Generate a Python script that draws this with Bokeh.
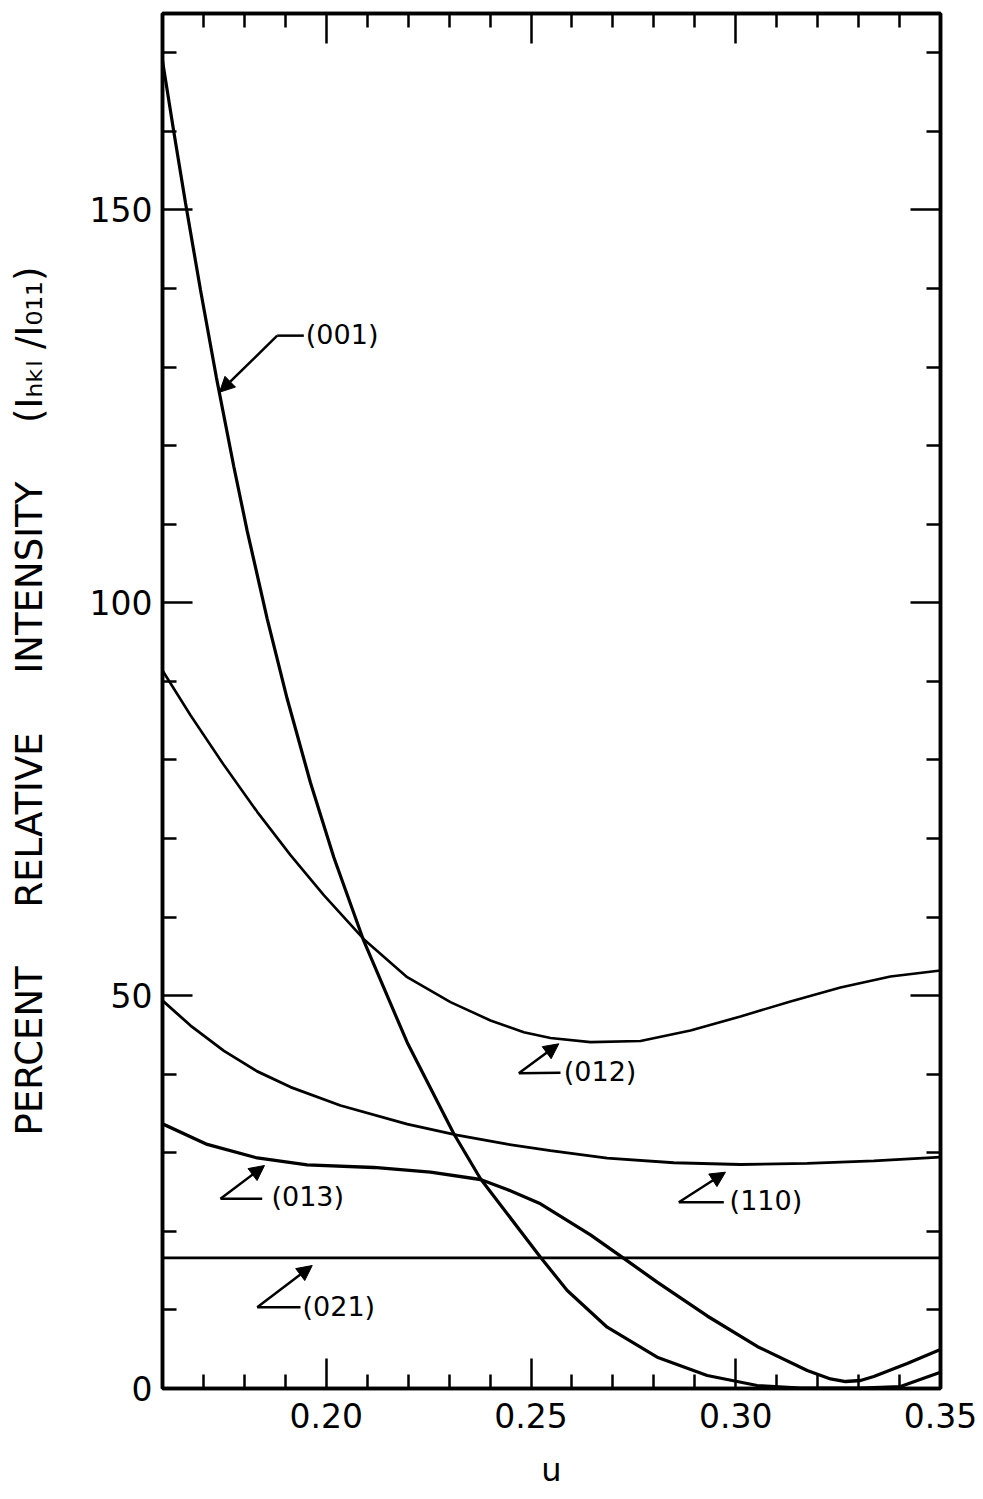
from bokeh.plotting import figure
from bokeh.models import Range1d, FixedTicker, LinearAxis, Label, Arrow, NormalHead, NumeralTickFormatter
from bokeh.embed import file_html
from bokeh.resources import INLINE

# ---- data ----
u_001 = [0.1600, 0.16276, 0.16562, 0.16928, 0.17319, 0.17741, 0.18068, 0.18557, 0.19045, 0.19614,
         0.20183, 0.20916, 0.21976, 0.23114, 0.23766, 0.25231, 0.25884, 0.2686, 0.28081, 0.29303,
         0.30524, 0.3158, 0.33046, 0.34023, 0.3500]
v_001 = [169.0, 159.96, 150.88, 139.81, 128.60, 117.35, 109.16, 97.96, 87.78, 77.10,
         67.61, 56.96, 44.04, 32.42, 26.69, 16.71, 12.47, 7.80, 3.98, 1.65,
         0.38, 0.05, 0.05, 0.25, 2.07]

u_012 = [0.1600, 0.16684, 0.1750, 0.18313, 0.19126, 0.19939, 0.20916, 0.21976, 0.23033, 0.24010,
         0.24823, 0.25475, 0.26452, 0.27673, 0.28894, 0.30115, 0.31336, 0.32557, 0.33778, 0.3500]
v_012 = [91.38, 85.69, 79.34, 73.39, 67.88, 62.79, 57.19, 52.35, 49.17, 46.84,
         45.35, 44.60, 44.08, 44.23, 45.56, 47.35, 49.26, 51.04, 52.44, 53.20]

u_110 = [0.1600, 0.16684, 0.1750, 0.18313, 0.19126, 0.20347, 0.21976, 0.23197, 0.24418, 0.25475,
         0.2686, 0.28487, 0.30115, 0.31745, 0.33371, 0.3500]
v_110 = [49.38, 46.19, 42.97, 40.36, 38.36, 36.02, 33.64, 32.24, 31.09, 30.27,
         29.32, 28.73, 28.51, 28.64, 28.96, 29.46]

u_013 = [0.1600, 0.17092, 0.18313, 0.19534, 0.21160, 0.22545, 0.23766, 0.24418, 0.25231, 0.26452,
         0.27266, 0.28081, 0.29303, 0.30524, 0.31745, 0.32314, 0.32680, 0.33046, 0.33371, 0.34187, 0.3500]
v_013 = [33.69, 31.06, 29.34, 28.45, 28.13, 27.55, 26.60, 25.33, 23.51, 19.56,
         16.55, 13.55, 9.23, 5.35, 2.29, 1.21, 0.89, 1.02, 1.53, 3.18, 4.96]

u_021 = [0.160, 0.350]
v_021 = [16.63, 16.63]

x_major = [0.20, 0.25, 0.30, 0.35]
x_minor = [0.17, 0.18, 0.19, 0.21, 0.22, 0.23, 0.24, 0.26, 0.27, 0.28, 0.29, 0.31, 0.32, 0.33, 0.34]
y_major = [0, 50, 100, 150]
y_minor = [10, 20, 30, 40, 60, 70, 80, 90, 110, 120, 130, 140, 160, 170]

GAP = "\u00a0" * 5
Y_TITLE = "PERCENT" + GAP + "RELATIVE" + GAP + "INTENSITY" + GAP + "(I\u2095\u2096\u2097\u00a0/I\u2080\u2081\u2081)"
X_TITLE = "u"

FONT = "DejaVu Sans"

p = figure(width=983, height=1499, output_backend="svg", toolbar_location=None,
           x_range=Range1d(0.16, 0.35), y_range=Range1d(0, 175),
           min_border_left=162, min_border_right=43, min_border_top=13, min_border_bottom=111,
           background_fill_color="white", border_fill_color="white")
p.grid.visible = False
p.outline_line_color = "black"
p.outline_line_width = 3.5

def style_axis(ax, ticks, minor, show_labels):
    ax.ticker = FixedTicker(ticks=ticks, minor_ticks=minor)
    ax.axis_line_width = 3.5
    ax.axis_line_color = "black"
    ax.major_tick_in = 30
    ax.major_tick_out = 0
    ax.minor_tick_in = 14
    ax.minor_tick_out = 0
    ax.major_tick_line_width = 2.5
    ax.minor_tick_line_width = 2.5
    ax.major_tick_line_color = "black"
    ax.minor_tick_line_color = "black"
    if show_labels:
        ax.major_label_text_font = FONT
        ax.major_label_text_font_size = "33px"
        ax.major_label_text_color = "black"
    else:
        ax.major_label_text_font_size = "1px"
        ax.major_label_text_color = None
        ax.major_label_standoff = 0

xa = p.xaxis[0]
style_axis(xa, x_major, x_minor, True)
xa.formatter = NumeralTickFormatter(format="0.00")
xa.major_label_standoff = 14
xa.axis_label = X_TITLE
xa.axis_label_text_font = FONT
xa.axis_label_text_font_size = "32px"
xa.axis_label_text_font_style = "normal"
xa.axis_label_text_color = "black"
xa.axis_label_standoff = 20

ya = p.yaxis[0]
style_axis(ya, y_major, y_minor, True)
ya.major_label_standoff = 10
ya.axis_label = Y_TITLE
ya.axis_label_text_font = FONT
ya.axis_label_text_font_size = "37px"
ya.axis_label_text_font_style = "normal"
ya.axis_label_text_color = "black"
ya.axis_label_standoff = 36

top = LinearAxis()
style_axis(top, x_major, x_minor, False)
p.add_layout(top, "above")
right = LinearAxis()
style_axis(right, y_major, y_minor, False)
p.add_layout(right, "right")

# ---- curves ----
p.line(u_001, v_001, line_color="black", line_width=3.2)
p.line(u_012, v_012, line_color="black", line_width=2.6)
p.line(u_110, v_110, line_color="black", line_width=2.8)
p.line(u_013, v_013, line_color="black", line_width=3.3)
p.line(u_021, v_021, line_color="black", line_width=2.6)

# ---- curve annotations (arrow + leader + tag) ----
def tag(text, corner, tip, hend, text_pos):
    p.add_layout(Arrow(end=None, x_start=corner[0], y_start=corner[1], x_end=hend[0], y_end=hend[1],
                       line_color="black", line_width=2.5))
    p.add_layout(Arrow(end=NormalHead(size=15, fill_color="black", line_color="black", line_width=1),
                       x_start=corner[0], y_start=corner[1], x_end=tip[0], y_end=tip[1],
                       line_color="black", line_width=2.5))
    p.add_layout(Label(x=text_pos[0], y=text_pos[1], text=text, text_font=FONT, text_font_size="27px",
                       text_align="left", text_baseline="middle", text_color="black"))

tag("(001)", (0.18801, 134.0), (0.17392, 126.8), (0.19451, 134.0), (0.1950, 134.1))
tag("(012)", (0.24701, 40.13), (0.25678, 43.87), (0.2572, 40.2), (0.2580, 40.3))
tag("(110)", (0.28609, 23.71), (0.29749, 27.53), (0.29708, 23.71), (0.2985, 23.9))
tag("(013)", (0.17416, 24.14), (0.18491, 28.38), (0.18435, 24.14), (0.1866, 24.4))
tag("(021)", (0.18313, 10.35), (0.19656, 15.65), (0.19370, 10.35), (0.1942, 10.4))

open("out.html", "w").write(file_html(p, INLINE))
